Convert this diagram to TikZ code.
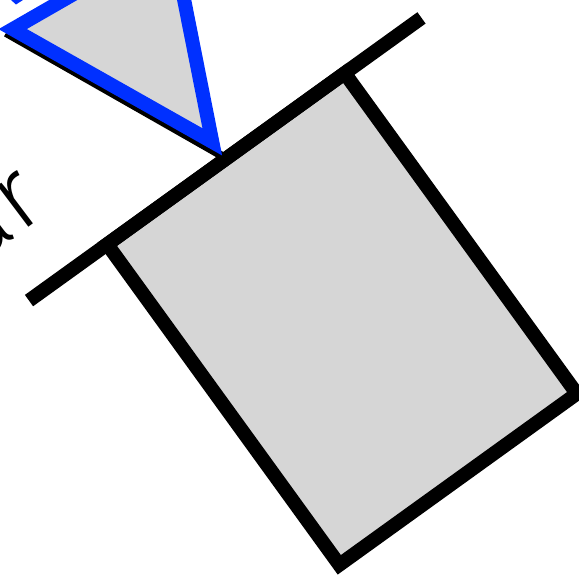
\documentclass[tikz,border=0pt]{standalone}
\usepackage{fontspec}
\newfontfamily\rotulofont{Fira Sans Light}
\usepackage{tikz}
\definecolor{cinza-bloco}{RGB}{214,214,214}
\definecolor{azul-borda}{RGB}{0,48,255}

\begin{document}
\begin{tikzpicture}[x=0.01cm, y=-0.01cm, line join=miter]
    % Moldura
    \useasboundingbox (0,0) rectangle (579,577);
    \clip (0,0) rectangle (579,577);

    % Bloco
    \draw[line width=0.14cm, fill=cinza-bloco] (107.2,244.3) -- (344.7,73.2) -- (576.8,393.7) -- (339.3,564.8) -- cycle;

    % Linha de apoio
    \draw[line width=0.14cm] (29,300.6) -- (421.5,17.9);

    % Sombra do triangulo
    \draw[line width=0.08cm] (6,32.9) -- (224,157);

    % Triangulo
    \draw[line width=0.14cm, azul-borda, fill=cinza-bloco] (12.7,29.1) -- (212.3,141.9) -- (171.8,-62.4) -- cycle;
    \fill[azul-borda] (11,0) -- (23,0) -- (16,4.5) -- cycle;

    % Rotulo
    \node[font=\rotulofont\fontsize{28}{32}\selectfont, rotate=37, anchor=base east, inner sep=0pt] (rotulo) at (50,211) {ar};
\end{tikzpicture}
\end{document}
